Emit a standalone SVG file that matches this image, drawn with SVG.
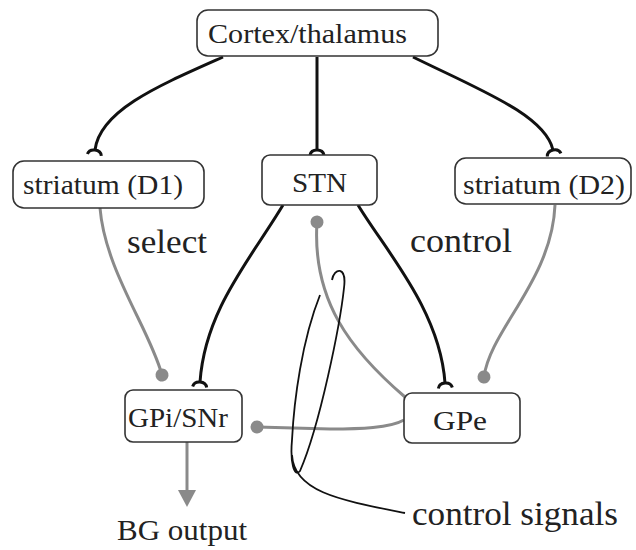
<svg xmlns="http://www.w3.org/2000/svg" width="636" height="550" viewBox="0 0 636 550">
<style>
.box{fill:#fff;stroke:#333;stroke-width:1.6}
text{font-family:'Liberation Serif','DejaVu Serif','Times New Roman',Times,serif}
.lbl{font-size:27px;fill:#222}
.big{font-size:33px;fill:#222}
.blk{fill:none;stroke:#111;stroke-width:3}
.gry{fill:none;stroke:#8a8a8a;stroke-width:3}
.thin{fill:none;stroke:#111;stroke-width:1.8}
</style>
<defs>
<marker id="tee" markerUnits="userSpaceOnUse" markerWidth="20" markerHeight="20" viewBox="-10 -10 20 20" refX="0" refY="0" orient="auto">
<path d="M5,-7 Q0,-6 0,0 Q0,6 5,7" fill="none" stroke="#111" stroke-width="3"/>
</marker>
<marker id="dot" markerUnits="userSpaceOnUse" markerWidth="16" markerHeight="16" viewBox="-8 -8 16 16" refX="0" refY="0" orient="auto">
<circle cx="0" cy="0" r="6.5" fill="#8a8a8a"/>
</marker>
<marker id="arr" markerUnits="userSpaceOnUse" markerWidth="24" markerHeight="24" viewBox="-2 -12 24 24" refX="0" refY="0" orient="auto">
<path d="M0,-9 L17,0 L0,9 Z" fill="#8a8a8a"/>
</marker>
</defs>
<g id="connectors">
<path class="blk" d="M223,57 C160,85 100,110 95,150" marker-end="url(#tee)"/>
<path class="blk" d="M317,57 L317,150" marker-end="url(#tee)"/>
<path class="blk" d="M413,57 C480,90 545,115 553,150" marker-end="url(#tee)"/>
<path class="blk" d="M283,205 C250,260 205,310 200,382" marker-end="url(#tee)"/>
<path class="blk" d="M358,205 C385,250 440,310 445,383" marker-end="url(#tee)"/>
<path class="gry" d="M100,208 C105,270 150,330 162,375" marker-end="url(#dot)"/>
<path class="gry" d="M555,205 C552,280 490,330 484,377" marker-end="url(#dot)"/>
<path class="gry" d="M405,397 C350,350 312,300 317,222" marker-end="url(#dot)"/>
<path class="gry" d="M404,420 C390,428 360,429 330,429 L257,427" marker-end="url(#dot)"/>
<path class="gry" d="M187,442 L187,490" marker-end="url(#arr)"/>
<path class="thin" d="M332,280 C334,268 347,265 344,288 C340,325 320,425 300,471 C294,478 290,462 292,440 C294,400 302,340 320,295 M292,455 C294,492 340,500 405,513"/>
</g>
<g id="cortex"><rect class="box" x="197" y="10" width="241" height="46" rx="11"/><text class="lbl" x="208" y="43" textLength="199" lengthAdjust="spacingAndGlyphs">Cortex/thalamus</text></g>
<g id="striatumD1"><rect class="box" x="13" y="161" width="191" height="47" rx="11"/><text class="lbl" x="23" y="194" textLength="160" lengthAdjust="spacingAndGlyphs">striatum (D1)</text></g>
<g id="stn"><rect class="box" x="262" y="155" width="115" height="50" rx="8"/><text class="lbl" x="292" y="192" textLength="55" lengthAdjust="spacingAndGlyphs">STN</text></g>
<g id="striatumD2"><rect class="box" x="455" y="158" width="176" height="46" rx="11"/><text class="lbl" x="463" y="194" textLength="162" lengthAdjust="spacingAndGlyphs">striatum (D2)</text></g>
<g id="gpi"><rect class="box" x="125" y="390" width="117" height="52" rx="8"/><text class="lbl" x="128" y="427" textLength="100" lengthAdjust="spacingAndGlyphs">GPi/SNr</text></g>
<g id="gpe"><rect class="box" x="404" y="393" width="116" height="50" rx="8"/><text class="lbl" x="433" y="430" textLength="54" lengthAdjust="spacingAndGlyphs">GPe</text></g>
<g id="labels">
<text class="big" x="127" y="253" textLength="80" lengthAdjust="spacingAndGlyphs">select</text>
<text class="big" x="410" y="252" textLength="102" lengthAdjust="spacingAndGlyphs">control</text>
<text class="big" x="412" y="525" textLength="206" lengthAdjust="spacingAndGlyphs">control signals</text>
<text class="big" x="117" y="540" style="font-size:30px" textLength="130" lengthAdjust="spacingAndGlyphs">BG output</text>
</g>
</svg>
